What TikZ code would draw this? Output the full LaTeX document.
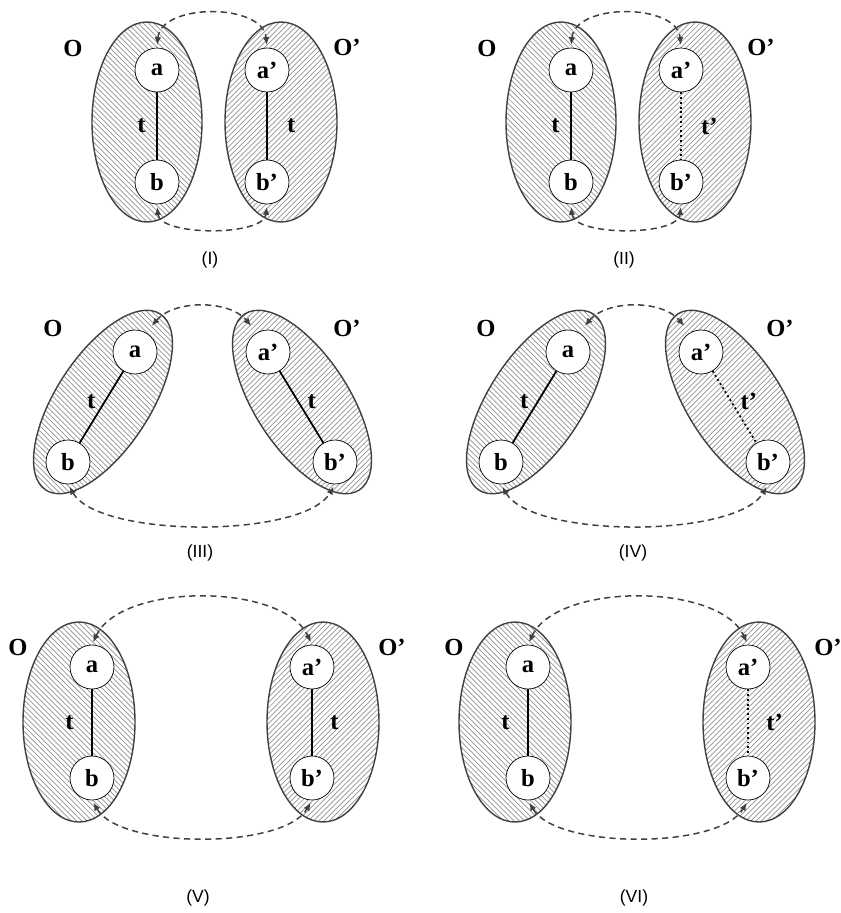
\documentclass[tikz,border=0pt]{standalone}
\usepackage{fontspec}
\setmainfont{Liberation Serif}
\newfontfamily\capfont{Liberation Sans}
\usetikzlibrary{arrows.meta,patterns}

\tikzset{
  objO/.style={draw=black!75, line width=0.8pt, pattern=north west lines, pattern color=black!42},
  objP/.style={draw=black!75, line width=0.8pt, pattern=north east lines, pattern color=black!42},
  term/.style={circle, draw, thin, fill=white, inner sep=0pt, minimum size=8.8mm,
    font=\fontsize{14}{16}\selectfont\bfseries},
  lbl/.style={inner sep=0pt, font=\fontsize{14}{16}\selectfont\bfseries},
  tie/.style={line width=1pt},
  loose/.style={line width=1pt, dash pattern=on 1.1pt off 1.6pt},
  link/.style={draw=black!75, line width=0.85pt, dash pattern=on 3.5pt off 2.5pt,
    {Latex[length=4.5pt,width=3.8pt]}-{Latex[length=4.5pt,width=3.8pt]},
    shorten <=1.5pt, shorten >=1.5pt},
  casetag/.style={font=\capfont\fontsize{10}{12}\selectfont}
}

\begin{document}
\begin{tikzpicture}[x=0.02cm, y=0.02cm]
  \useasboundingbox (0,0) rectangle (840,-913);

  % (I) and (II): upright objects, close together
  \foreach \dx/\n/\lab/\ts/\capt in {0/1/t/tie/I, 414/2/t'/loose/II} {
    \begin{scope}[shift={(\dx,0)}]
      \draw[objO] (147,-122) ellipse [x radius=55, y radius=100];
      \draw[objP] (281,-122) ellipse [x radius=56, y radius=100];
      \node[term] (a\n) at (157,-70) {a};
      \node[term] (b\n) at (157,-182) {b};
      \node[term] (ap\n) at (267,-70) {a'};
      \node[term] (bp\n) at (267,-182) {b'};
      \draw[tie] (a\n) -- node[lbl, left=6pt] {t} (b\n);
      \draw[\ts] (ap\n) -- node[lbl, right=11pt] {\lab} (bp\n);
      \draw[link] (a\n.north) to[out=85, in=95, looseness=1.05] (ap\n.north);
      \draw[link] (b\n.south) to[out=-85, in=-95, looseness=0.75] (bp\n.south);
      \node[lbl] (O\n) at (73,-48) {O};
      \node[lbl] (Op\n) at (347,-47) {O'};
      \node[casetag] (c\n) at (210,-260) {(\capt)};
    \end{scope}
  }

  % (III) and (IV): tilted objects
  \foreach \dx/\n/\lab/\ts/\capt in {0/3/t/tie/III, 433/4/t'/loose/IV} {
    \begin{scope}[shift={(\dx,0)}]
      \draw[objO, shift={(103,-402)}, rotate=-33] (0,0) ellipse [x radius=47, y radius=105];
      \draw[objP, shift={(302,-402)}, rotate=33] (0,0) ellipse [x radius=47, y radius=105];
      \node[term] (a\n) at (135,-352) {a};
      \node[term] (b\n) at (68,-462) {b};
      \node[term] (ap\n) at (268,-352) {a'};
      \node[term] (bp\n) at (335,-462) {b'};
      \draw[tie] (a\n) -- node[lbl, left=5pt, pos=0.42] {t} (b\n);
      \draw[\ts] (ap\n) -- node[lbl, right=5pt, pos=0.42] {\lab} (bp\n);
      \draw[link, shorten <=5pt, shorten >=5pt] (a\n.60) to[out=50, in=130] (ap\n.120);
      \draw[link] (b\n.south) to[out=-60, in=-120, looseness=0.6] (bp\n.south);
      \node[lbl] (O\n) at (53,-328) {O};
      \node[lbl] (Op\n) at (347,-328) {O'};
      \node[casetag] (c\n) at (200,-553) {(\capt)};
    \end{scope}
  }

  % (V) and (VI): upright objects, far apart
  \foreach \dx/\n/\lab/\ts/\capt in {0/5/t/tie/V, 436/6/t'/loose/VI} {
    \begin{scope}[shift={(\dx,0)}]
      \draw[objO] (79,-722) ellipse [x radius=56, y radius=100];
      \draw[objP] (323,-722) ellipse [x radius=56, y radius=100];
      \node[term] (a\n) at (92,-667) {a};
      \node[term] (b\n) at (92,-778) {b};
      \node[term] (ap\n) at (312,-667) {a'};
      \node[term] (bp\n) at (312,-778) {b'};
      \draw[tie] (a\n) -- node[lbl, left=10pt] {t} (b\n);
      \draw[\ts] (ap\n) -- node[lbl, right=10pt] {\lab} (bp\n);
      \draw[link] (a\n.north) to[out=65, in=115, looseness=0.8] (ap\n.north);
      \draw[link] (b\n.south) to[out=-60, in=-120, looseness=0.66] (bp\n.south);
      \node[lbl] (O\n) at (18,-647) {O};
      \node[lbl] (Op\n) at (392,-647) {O'};
      \node[casetag] (c\n) at (198,-898) {(\capt)};
    \end{scope}
  }
\end{tikzpicture}
\end{document}
